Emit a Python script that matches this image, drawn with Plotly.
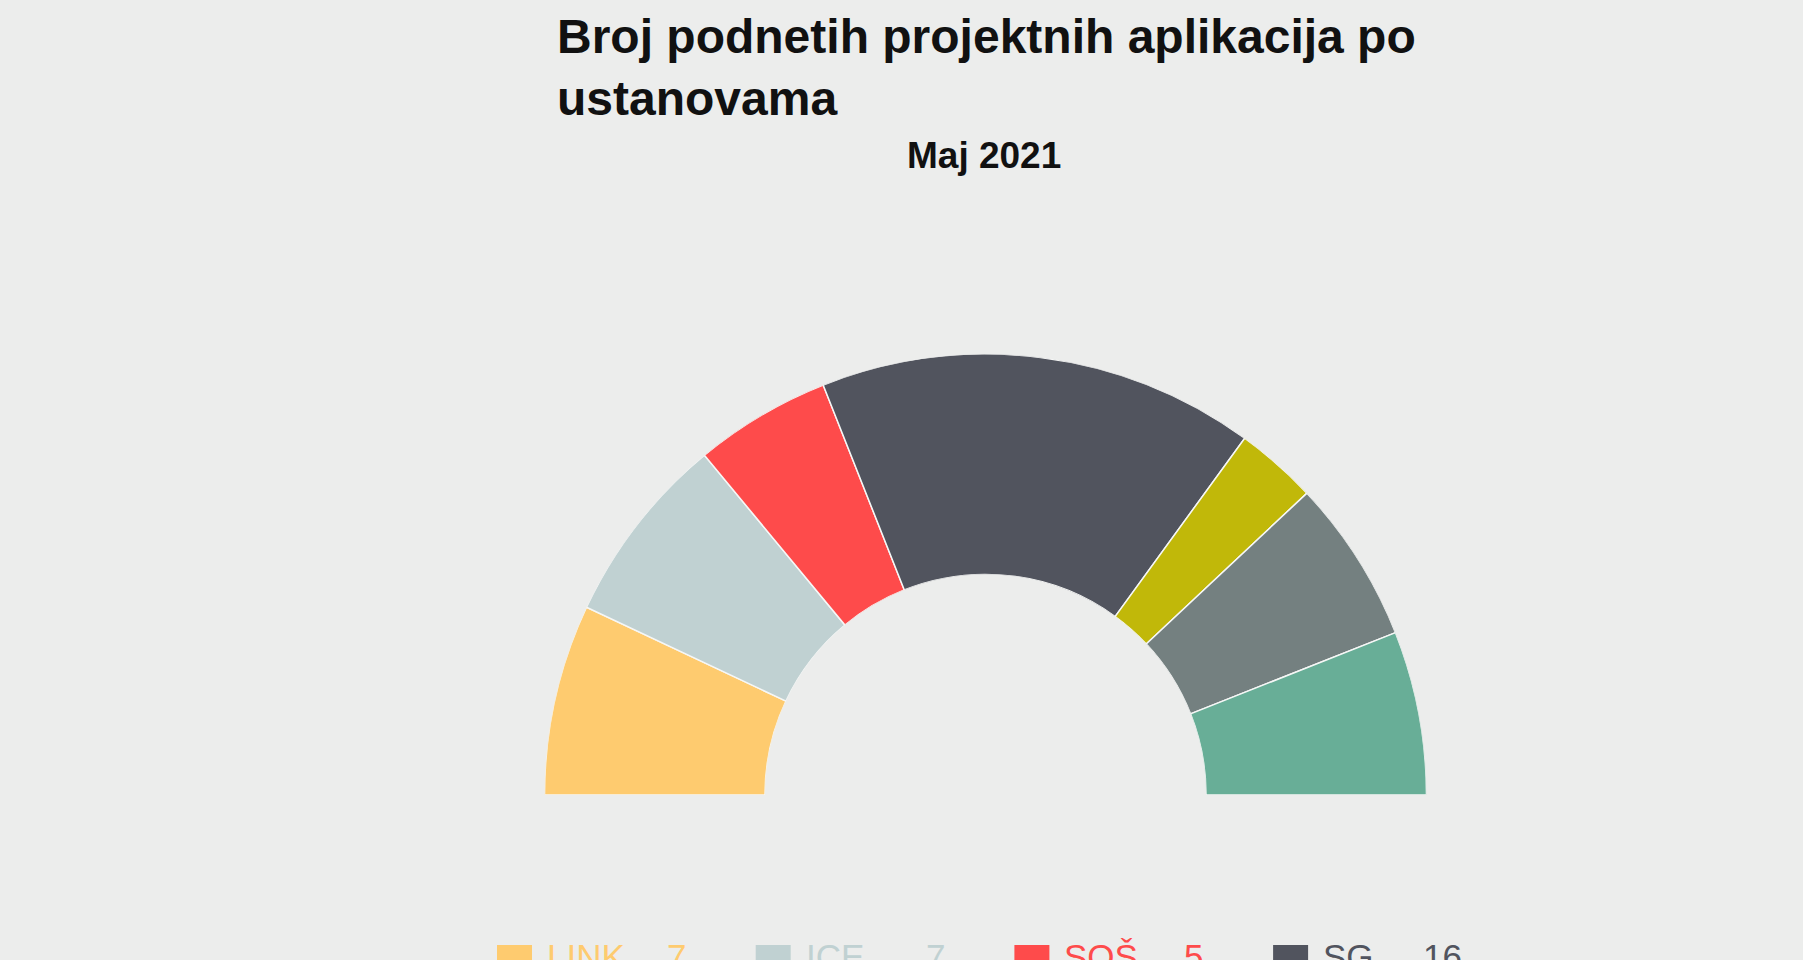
import plotly.graph_objects as go

# ---- data ----
categories = ["LINK", "ICE", "SOŠ", "SG", "Ustanova 5", "Ustanova 6", "Ustanova 7"]
values = [7, 7, 5, 16, 3, 6, 6]
colors = ["#FECB6F", "#C0D1D2", "#FE4B4B", "#51545E", "#C1B809", "#748080", "#68AE97"]

title_text = "Broj podnetih projektnih aplikacija po<br>ustanovama"
subtitle_text = "Maj 2021"

W, H = 1803, 960
BG = "#ECEDEC"
FONT = "Liberation Sans, Arial, sans-serif"

# semicircle: map values onto 180 degrees
total = sum(values)
unit = 180.0 / total
widths = [v * unit for v in values]
centers = []
acc = 0.0
for w in widths:
    centers.append(acc + w / 2)
    acc += w

fig = go.Figure()
fig.add_trace(go.Barpolar(
    r=[1] * len(values),
    theta=centers,
    width=widths,
    marker=dict(color=colors, line=dict(color="#F6F7F6", width=1.5)),
    customdata=[[c, v] for c, v in zip(categories, values)],
    hovertemplate="%{customdata[0]}: %{customdata[1]}<extra></extra>",
    showlegend=False,
))

# pixel helpers for layout positions
def px_x(x):
    return x / W

def px_y(y):
    return 1 - y / H

fig.update_layout(
    width=W, height=H,
    paper_bgcolor=BG, plot_bgcolor=BG,
    margin=dict(l=0, r=0, t=0, b=0, autoexpand=False),
    font=dict(family=FONT, color="#111111"),
    polar=dict(
        sector=[0, 180],
        hole=0.5,
        bgcolor="rgba(0,0,0,0)",
        domain=dict(x=[px_x(544), px_x(1427)], y=[px_y(795), px_y(354)]),
        radialaxis=dict(visible=False, range=[0, 1], showgrid=False),
        angularaxis=dict(visible=False, rotation=180, direction="clockwise",
                         showgrid=False),
    ),
    title=dict(
        text=title_text,
        font=dict(family=FONT, size=48, color="#111111", weight="bold"),
        x=px_x(557), xanchor="left", xref="container",
        y=px_y(53), yanchor="top", yref="container",
    ),
)

fig.add_annotation(
    text="<b>" + subtitle_text + "</b>",
    x=px_x(984), y=px_y(156), xref="paper", yref="paper",
    xanchor="center", yanchor="middle", showarrow=False,
    font=dict(family=FONT, size=37, color="#111111"),
)

# custom legend (square + name + value), rows of 4
for i, (c, v, col) in enumerate(zip(categories, values, colors)):
    row, cl = divmod(i, 4)
    x0 = 497 + cl * 258.7
    y0 = 945 + row * 60
    fig.add_shape(type="rect", xref="paper", yref="paper",
                  x0=px_x(x0), x1=px_x(x0 + 35), y0=px_y(y0), y1=px_y(y0 + 35),
                  fillcolor=col, line=dict(width=0), layer="above")
    fig.add_annotation(text=c, x=px_x(x0 + 48), y=px_y(y0 + 11), xref="paper", yref="paper",
                       xanchor="left", yanchor="middle", showarrow=False,
                       font=dict(family=FONT, size=35, color=col))
    fig.add_annotation(text=str(v), x=px_x(x0 + 191), y=px_y(y0 + 11), xref="paper", yref="paper",
                       xanchor="right", yanchor="middle", showarrow=False,
                       font=dict(family=FONT, size=35, color=col))

fig.write_html(
    "out.html",
    config={"displayModeBar": False},
    post_script="document.body.style.margin='0';document.body.style.background='" + BG + "';",
)
